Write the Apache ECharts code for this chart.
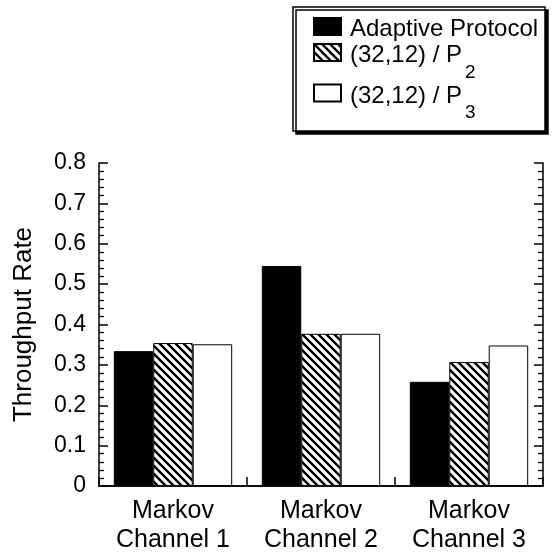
<!DOCTYPE html>
<html>
<head>
<meta charset="utf-8">
<script src="https://cdn.jsdelivr.net/npm/echarts@6/dist/echarts.min.js"></script>
<style>
html,body{margin:0;padding:0;background:#fff;}
#chart{width:553px;height:559px;}
</style>
</head>
<body>
<div id="chart"></div>
<script>
// ---- data ----
var categories = ['Markov\nChannel 1', 'Markov\nChannel 2', 'Markov\nChannel 3'];
var seriesNames = ['Adaptive Protocol', '(32,12) / P2', '(32,12) / P3'];
var legendMain = ['Adaptive Protocol', '(32,12) / P', '(32,12) / P'];
var legendSub = ['', '2', '3'];
var adaptive = [0.334, 0.545, 0.258];
var p2 = [0.354, 0.377, 0.307];
var p3 = [0.351, 0.377, 0.348];
var yTicks = [0, 0.1, 0.2, 0.3, 0.4, 0.5, 0.6, 0.7, 0.8];

// hatch pattern
var hc = document.createElement('canvas');
hc.width = 8; hc.height = 8;
var hx = hc.getContext('2d');
hx.fillStyle = '#fff'; hx.fillRect(0, 0, 8, 8);
hx.strokeStyle = '#000'; hx.lineWidth = 2.4;
hx.beginPath();
hx.moveTo(-4, -4); hx.lineTo(12, 12);
hx.moveTo(-4, 4); hx.lineTo(4, 12);
hx.moveTo(4, -4); hx.lineTo(12, 4);
hx.stroke();
var hatch = {image: hc, repeat: 'repeat'};

var FONT = 'Liberation Sans, Arial, Helvetica, sans-serif';
var TICK = '#000';
var chart = echarts.init(document.getElementById('chart'));

function yAxisBase(pos, showLabel) {
  return {
    type: 'value', position: pos, min: 0, max: 0.8, interval: 0.1,
    axisLine: {show: true, lineStyle: {color: '#000', width: 1.5}},
    axisTick: {show: true, inside: true, length: 9, lineStyle: {color: TICK, width: 1.5}},
    minorTick: {show: true, splitNumber: 5, length: 5, lineStyle: {color: TICK, width: 1.3}},
    splitLine: {show: false},
    axisLabel: {show: showLabel, color: '#000', fontSize: 23, fontFamily: FONT, margin: 13,
      formatter: function (v) { var i = Math.round(v * 10); return String(yTicks[i]); }},
    name: showLabel ? 'Throughput Rate' : '',
    nameLocation: 'middle', nameRotate: 90, nameGap: 62,
    nameTextStyle: {color: '#000', fontSize: 26, fontFamily: FONT}
  };
}

var option = {
  animation: false,
  backgroundColor: '#fff',
  grid: {left: 99, right: 10, top: 163, bottom: 73},
  graphic: [{
    type: 'rect', shape: {x: 293, y: 7, width: 252, height: 124}, z: 0,
    style: {fill: '#fff', stroke: '#000', lineWidth: 1.5,
      shadowBlur: 0, shadowOffsetX: 3, shadowOffsetY: 3, shadowColor: '#000'}
  }],
  legend: {
    orient: 'vertical', left: 313, top: 11.5, padding: 0, itemGap: -18.5,
    itemWidth: 27, itemHeight: 17, icon: 'rect', z: 5,
    data: seriesNames,
    formatter: function (name) {
      var i = seriesNames.indexOf(name);
      if (!legendSub[i]) return '{t|' + legendMain[i] + '}';
      return '{t|' + legendMain[i] + '}{s|' + legendSub[i] + '}';
    },
    textStyle: {
      color: '#000', fontFamily: FONT,
      rich: {
        t: {fontSize: 24, fontFamily: FONT, color: '#000', lineHeight: 26, padding: [6, 0, 0, 4]},
        s: {fontSize: 19, fontFamily: FONT, color: '#000', lineHeight: 19, padding: [40, 0, 0, 3]}
      }
    }
  },
  xAxis: [{
    type: 'category', data: categories, position: 'bottom',
    axisLine: {show: true, lineStyle: {color: '#000', width: 1.5}},
    axisTick: {show: true, inside: true, length: 9, interval: 0, lineStyle: {color: TICK, width: 1.5}},
    axisLabel: {color: '#000', fontSize: 25, fontFamily: FONT, lineHeight: 29, margin: 11, interval: 0},
    splitLine: {show: false}
  }, {
    type: 'category', data: categories, position: 'top',
    axisLine: {show: true, lineStyle: {color: '#000', width: 1.5}},
    axisTick: {show: false}, axisLabel: {show: false}
  }],
  yAxis: [yAxisBase('left', true), yAxisBase('right', false)],
  series: [{
    name: seriesNames[0], type: 'bar', data: adaptive, barGap: '0%', barCategoryGap: '20%',
    itemStyle: {color: '#000', borderColor: '#000', borderWidth: 1}
  }, {
    name: seriesNames[1], type: 'bar', data: p2, barGap: '0%', barCategoryGap: '20%',
    itemStyle: {color: hatch, borderColor: '#000', borderWidth: 1}
  }, {
    name: seriesNames[2], type: 'bar', data: p3, barGap: '0%', barCategoryGap: '20%',
    itemStyle: {color: '#fff', borderColor: '#000', borderWidth: 1}
  }]
};
chart.setOption(option);
</script>
</body>
</html>
